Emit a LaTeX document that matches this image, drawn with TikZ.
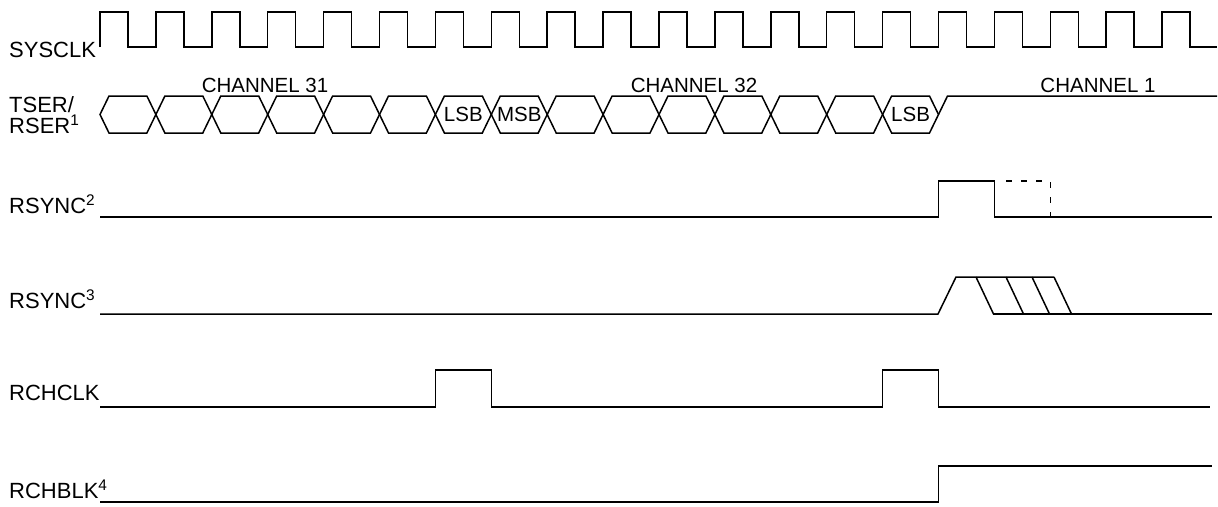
\documentclass[tikz,border=0pt]{standalone}
\usepackage{fontspec}
\setmainfont{Liberation Sans}
\usetikzlibrary{positioning}

\newcommand{\sigfont}{\fontsize{22}{24}\selectfont}
\newcommand{\chanfont}{\fontsize{20.5}{21}\selectfont}
\newcommand{\bitfont}{\fontsize{20.5}{21}\selectfont}
% clock period and first edge
\newcommand{\tclk}{55.9}
\newcommand{\tzero}{100}

\begin{document}
\begin{tikzpicture}[x=1pt, y=-1pt,
    wave/.style={line width=1.5pt, line join=miter},
    lbl/.style={anchor=base west, inner sep=0pt, font=\sigfont},
    chan/.style={anchor=base, inner sep=0pt, font=\chanfont},
    bit/.style={inner sep=0pt, font=\bitfont}
]
\useasboundingbox (0,0) rectangle (1218,506);

% Signal names
\node[lbl] (sysclk) at (9,57) {SYSCLK};
\node[lbl] (tser) at (9,112) {TSER/};
\node[lbl] (rser) at (9,133) {RSER\textsuperscript{1}};
\node[lbl] (rsyncA) at (9,213) {RSYNC\textsuperscript{2}};
\node[lbl] (rsyncB) at (9,308) {RSYNC\textsuperscript{3}};
\node[lbl] (rchclk) at (9,400) {RCHCLK};
\node[lbl] (rchblk) at (9,498) {RCHBLK\textsuperscript{4}};

% Channel names
\node[chan] (ch31) at (265,92) {CHANNEL 31};
\node[chan] (ch32) at (694,92) {CHANNEL 32};
\node[chan] (ch1) at (1098,92) {CHANNEL 1};

% SYSCLK
\draw[wave] (\tzero,47) -- (\tzero,12)
  \foreach \k in {0,...,18}{
    -- ({\tzero+\k*\tclk+28},12) -- ({\tzero+\k*\tclk+28},47)
    -- ({\tzero+(\k+1)*\tclk},47) -- ({\tzero+(\k+1)*\tclk},12)}
  -- ({\tzero+19*\tclk+28},12) -- ({\tzero+19*\tclk+28},47) -- (1217,47);

% TSER/RSER data cells
\foreach \k in {0,...,14}{
  \draw[wave] ({\tzero+\k*\tclk},114.5) -- ({\tzero+\k*\tclk+9},96)
    -- ({\tzero+(\k+1)*\tclk-9},96) -- ({\tzero+(\k+1)*\tclk},114.5)
    -- ({\tzero+(\k+1)*\tclk-9},133) -- ({\tzero+\k*\tclk+9},133) -- cycle;
}
\draw[wave] ({\tzero+15*\tclk},114.5) -- ({\tzero+15*\tclk+9},96) -- (1217,96);
\node[bit] (lsb31) at ({\tzero+6.5*\tclk},114.5) {LSB};
\node[bit] (msb32) at ({\tzero+7.5*\tclk},114.5) {MSB};
\node[bit] (lsb32) at ({\tzero+14.5*\tclk},114.5) {LSB};

% RSYNC (output)
\draw[wave] (100,217) -- ({\tzero+15*\tclk},217) -- ({\tzero+15*\tclk},181)
  -- ({\tzero+16*\tclk},181) -- ({\tzero+16*\tclk},217) -- (1212,217);
\draw[wave, line width=1.2pt, dash pattern=on 6pt off 9pt]
  ({\tzero+16*\tclk+12},181) -- ({\tzero+17*\tclk},181) -- ({\tzero+17*\tclk},217);

% RSYNC (input)
\draw[wave] (100,314) -- (938,314) -- (956,277) -- (1054,277);
\draw[wave] (993,314) -- (1212,314);
\foreach \a in {976,1006,1032,1054}
  \draw[wave] (\a,277) -- ({\a+17.5},314);

% RCHCLK
\draw[wave] (100,407) -- ({\tzero+6*\tclk},407) -- ({\tzero+6*\tclk},370)
  -- ({\tzero+7*\tclk},370) -- ({\tzero+7*\tclk},407)
  -- ({\tzero+14*\tclk},407) -- ({\tzero+14*\tclk},370)
  -- ({\tzero+15*\tclk},370) -- ({\tzero+15*\tclk},407) -- (1210,407);

% RCHBLK
\draw[wave] (100,502) -- ({\tzero+15*\tclk},502) -- ({\tzero+15*\tclk},466) -- (1212,466);

\end{tikzpicture}
\end{document}
